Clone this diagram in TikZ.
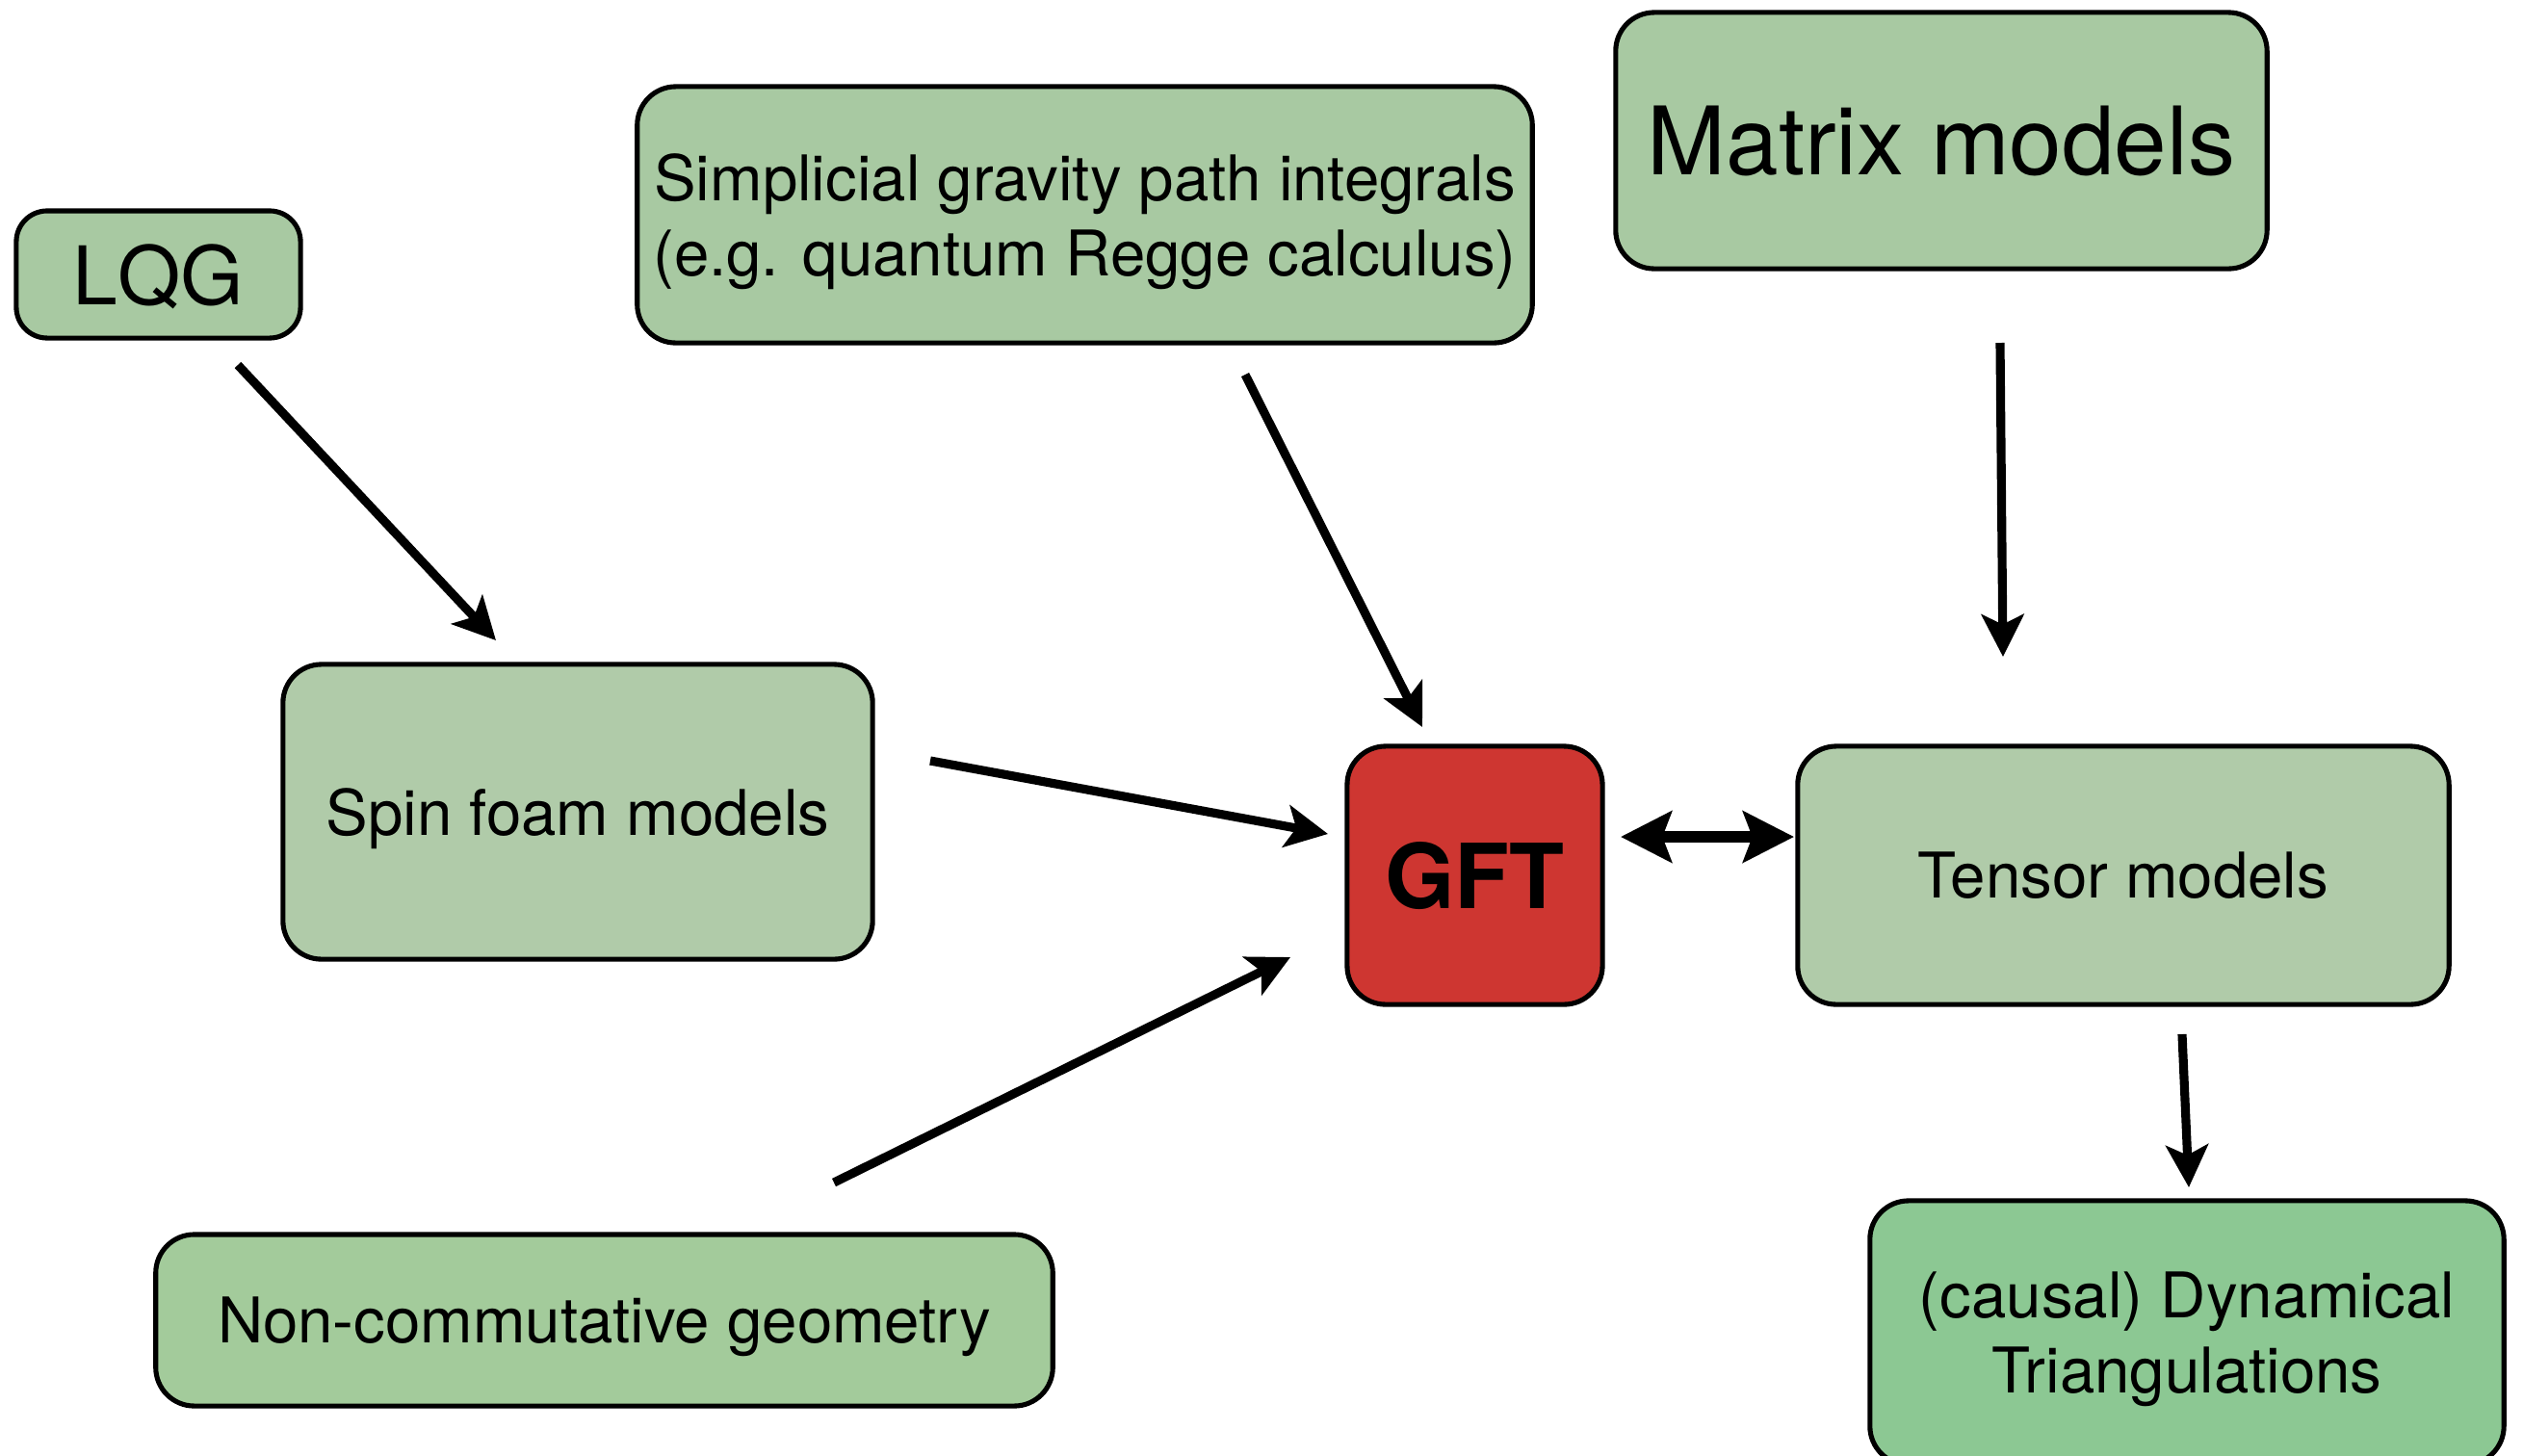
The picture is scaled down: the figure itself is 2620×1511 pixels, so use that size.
\documentclass[tikz,border=0pt]{standalone}
\usepackage{fontspec}
\setmainfont{TeX Gyre Heros}
\usetikzlibrary{arrows.meta}
\definecolor{gmain}{HTML}{A8C9A2}
\definecolor{glight}{HTML}{B0CBA9}
\definecolor{gnc}{HTML}{A3CB9B}
\definecolor{gcdt}{HTML}{8CC893}
\definecolor{gftred}{HTML}{CE3631}
\begin{document}
\begin{tikzpicture}[x=0.01cm,y=-0.01cm,
  box/.style={draw=black, line width=1.45pt, rounded corners=0.4cm, align=center,
    inner sep=0pt, text depth=0pt, font=\fontsize{18.6}{22.2}\selectfont},
  conn/.style={line width=2.6pt, -{Stealth[length=12.5pt,width=12.5pt,inset=3pt]}},
  dconn/.style={line width=3.6pt,
    {Stealth[length=15pt,width=15pt,inset=2.7pt]}-{Stealth[length=15pt,width=15pt,inset=2.7pt]}}]
\useasboundingbox (0,0) rectangle (2620,1511);

\node[box, fill=gmain, rounded corners=0.32cm, minimum width=2.95cm, minimum height=1.32cm,
  font=\fontsize{23.9}{28}\selectfont] (lqg) at (164.5,285) {LQG};
\node[box, fill=gmain, minimum width=9.29cm, minimum height=2.66cm] (simp) at (1126.5,223)
  {Simplicial gravity path integrals\\(e.g. quantum Regge calculus)};
\node[box, fill=gmain, minimum width=6.76cm, minimum height=2.66cm,
  font=\fontsize{27.9}{33}\selectfont] (matrix) at (2016,146) {Matrix models};
\node[box, fill=glight, minimum width=6.12cm, minimum height=3.06cm] (spin) at (600,843) {Spin foam models};
\node[box, fill=gftred, minimum width=2.65cm, minimum height=2.68cm,
  font=\fontsize{26.5}{31}\selectfont\bfseries] (gft) at (1531.5,909) {GFT};
\node[box, fill=glight, minimum width=6.76cm, minimum height=2.68cm] (tensor) at (2205,909) {Tensor models};
\node[box, fill=gnc, minimum width=9.31cm, minimum height=1.78cm] (nc) at (627.5,1371) {Non-commutative geometry};
\node[box, fill=gcdt, minimum width=6.58cm, minimum height=2.74cm] (cdt) at (2271,1384)
  {(causal) Dynamical\\Triangulations};

\coordinate (a1s) at (247,379);  \coordinate (a1e) at (515,665);
\coordinate (a2s) at (1293,389); \coordinate (a2e) at (1477,755);
\coordinate (a3s) at (2077,356); \coordinate (a3e) at (2080,682);
\coordinate (a4s) at (966,790);  \coordinate (a4e) at (1379,866);
\coordinate (a5s) at (866,1228); \coordinate (a5e) at (1340,994);
\coordinate (a6s) at (1683,869); \coordinate (a6e) at (1863,869);
\coordinate (a7s) at (2266,1074); \coordinate (a7e) at (2273,1233);

\draw[conn] (a1s) -- (a1e);
\draw[conn] (a2s) -- (a2e);
\draw[conn] (a3s) -- (a3e);
\draw[conn] (a4s) -- (a4e);
\draw[conn] (a5s) -- (a5e);
\draw[dconn] (a6s) -- (a6e);
\draw[conn] (a7s) -- (a7e);
\end{tikzpicture}
\end{document}
